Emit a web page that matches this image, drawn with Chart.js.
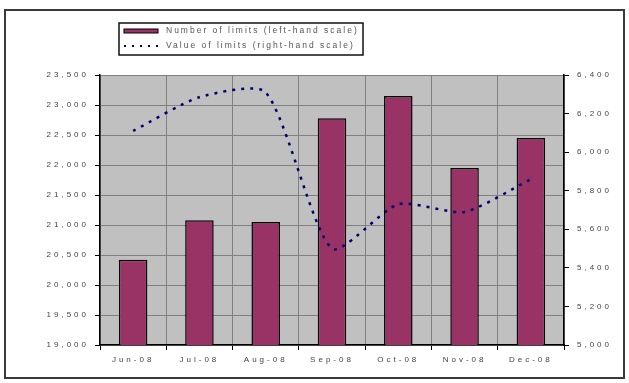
<!DOCTYPE html>
<html>
<head>
<meta charset="utf-8">
<script src="https://cdn.jsdelivr.net/npm/chart.js@4/dist/chart.umd.min.js"></script>
<style>
  html, body { margin: 0; padding: 0; background: #fff; }
  #wrap { position: relative; width: 629px; height: 383px; }
</style>
</head>
<body>
<div id="wrap"><canvas id="limitsChart" width="629" height="383"></canvas></div>
<script>
// data
const months = ['Jun-08', 'Jul-08', 'Aug-08', 'Sep-08', 'Oct-08', 'Nov-08', 'Dec-08'];
const limitCounts = [20420, 21080, 21050, 22780, 23150, 21950, 22450];
const limitValues = [6110, 6285, 6310, 5500, 5730, 5690, 5860];
const countLabel = 'Number of limits (left-hand scale)';
const valueLabel = 'Value of limits (right-hand scale)';

const fmt = v => v.toLocaleString('en-US');
const tickFont = { family: 'Arial, "Liberation Sans", sans-serif', size: 8 };

// excel text is widely spaced, canvas letterSpacing gets reset so set it every pass
const spacing = {
    id: 'spacing',
    beforeLayout(chart) { chart.ctx.letterSpacing = '3px'; },
    beforeDraw(chart) { chart.ctx.letterSpacing = '3px'; }
};

// grey plot background + outer frame
const frame = {
    id: 'frame',
    beforeDraw(chart) {
        const ctx = chart.ctx;
        const a = chart.chartArea;
        ctx.save();
        ctx.fillStyle = '#c0c0c0';
        ctx.fillRect(a.left, a.top, a.right - a.left, a.bottom - a.top);
        ctx.restore();
    },
    afterDraw(chart) {
        const ctx = chart.ctx;
        ctx.save();
        ctx.strokeStyle = '#3a3a3a';
        ctx.lineWidth = 2;
        ctx.strokeRect(5, 10, 619, 368);
        ctx.restore();
    }
};

// legend box drawn like the excel one
const boxLegend = {
    id: 'boxLegend',
    afterDraw(chart) {
        const ctx = chart.ctx;
        const ds = chart.data.datasets;
        ctx.save();
        ctx.strokeStyle = '#111';
        ctx.lineWidth = 1.5;
        ctx.strokeRect(119, 23, 244, 32);
        // bar swatch
        ctx.fillStyle = ds[0].backgroundColor;
        ctx.fillRect(124, 29, 34, 4);
        ctx.strokeStyle = '#000';
        ctx.lineWidth = 1;
        ctx.strokeRect(124, 29, 34, 4);
        // dotted line swatch
        ctx.strokeStyle = ds[1].borderColor;
        ctx.lineWidth = 2;
        ctx.setLineDash([2, 6]);
        ctx.beginPath();
        ctx.moveTo(124, 46);
        ctx.lineTo(162, 46);
        ctx.stroke();
        ctx.setLineDash([]);
        ctx.fillStyle = '#555';
        ctx.letterSpacing = '2px';
        ctx.font = '8.5px Arial, "Liberation Sans", sans-serif';
        ctx.textBaseline = 'middle';
        ctx.fillText(ds[0].label, 166, 31);
        ctx.fillText(ds[1].label, 166, 46);
        ctx.restore();
    }
};

const canv = document.getElementById('limitsChart').getContext('2d');
const chart = new Chart(canv, {
    type: 'bar',
    data: {
        labels: months,
        datasets: [{
            type: 'bar',
            label: countLabel,
            data: limitCounts,
            backgroundColor: '#993366',
            borderColor: '#000000',
            borderWidth: 1.5,
            borderSkipped: 'bottom',
            categoryPercentage: 1,
            barPercentage: 0.43,
            yAxisID: 'y',
            order: 2
        }, {
            type: 'line',
            label: valueLabel,
            data: limitValues,
            borderColor: '#000070',
            borderWidth: 2.5,
            borderDash: [3, 6],
            pointRadius: 0,
            fill: false,
            tension: 0.22,
            yAxisID: 'y1',
            order: 1
        }]
    },
    options: {
        responsive: false,
        animation: false,
        layout: { padding: { top: 75, left: 0, right: 0, bottom: 0 } },
        plugins: {
            legend: { display: false },
            tooltip: { enabled: false }
        },
        scales: {
            x: {
                offset: true,
                grid: {
                    display: true,
                    offset: true,
                    color: '#808080',
                    tickLength: 5,
                    tickColor: '#000'
                },
                border: { color: '#000', width: 1.5 },
                ticks: { color: '#444', font: tickFont, padding: 5 },
                afterFit(scale) { scale.height = 38; }
            },
            y: {
                position: 'left',
                min: 19000,
                max: 23500,
                ticks: {
                    stepSize: 500,
                    color: '#444',
                    font: tickFont,
                    padding: 6,
                    callback: v => fmt(v)
                },
                grid: { color: '#808080', tickLength: 5, tickColor: '#000' },
                border: { color: '#000', width: 1.5 },
                afterFit(scale) { scale.width = 100; }
            },
            y1: {
                position: 'right',
                min: 5000,
                max: 6400,
                ticks: {
                    stepSize: 200,
                    color: '#444',
                    font: tickFont,
                    padding: 8,
                    callback: v => fmt(v)
                },
                grid: { drawOnChartArea: false, tickLength: 5, tickColor: '#000' },
                border: { color: '#000', width: 1.5 },
                afterFit(scale) { scale.width = 65; }
            }
        }
    },
    plugins: [spacing, frame, boxLegend]
});
</script>
</body>
</html>
